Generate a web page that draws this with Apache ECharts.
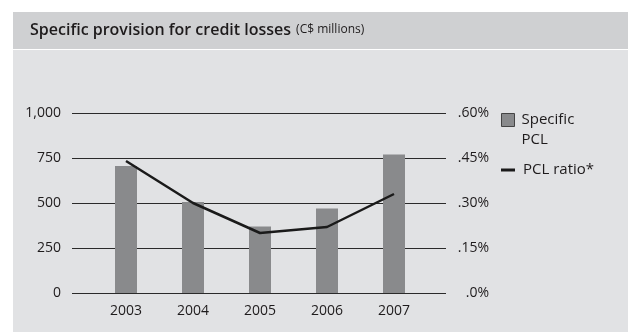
<!DOCTYPE html>
<html>
<head>
<meta charset="utf-8">
<script src="https://cdn.jsdelivr.net/npm/echarts@6/dist/echarts.min.js"></script>
<style>
html,body{margin:0;padding:0;background:#fff;}
#chart{width:630px;height:333px;}
</style>
</head>
<body>
<div id="chart"></div>
<script>
var years = ['2003', '2004', '2005', '2006', '2007'];
var specificPCL = [705, 505, 370, 470, 770];
var pclRatio = [0.44, 0.30, 0.20, 0.22, 0.33];
var leftTicks = ['0', '250', '500', '750', '1,000'];
var rightTicks = ['.0%', '.15%', '.30%', '.45%', '.60%'];

var FONT = '"Open Sans", sans-serif';
var TXT = '#1e1b1c';
var chart = echarts.init(document.getElementById('chart'));

var barData = specificPCL.map(function (v, i) { return [i, v]; });
var lineData = pclRatio.map(function (v, i) { return [i, v]; });

chart.setOption({
  animation: false,
  backgroundColor: '#ffffff',
  graphic: [
    { type: 'rect', shape: { x: 13, y: 12, width: 615, height: 37 }, style: { fill: '#cfd0d2' }, z: -10 },
    { type: 'rect', shape: { x: 13, y: 50, width: 615, height: 282 }, style: { fill: '#e1e2e4' }, z: -10 }
  ],
  title: {
    left: 30, top: 21, padding: 0,
    text: '{a|Specific provision for credit losses} {b|(C$ millions)}',
    textStyle: {
      rich: {
        a: { fontFamily: FONT, fontSize: 16, fontWeight: 600, color: TXT },
        b: { fontFamily: FONT, fontSize: 12, fontWeight: 'normal', color: TXT }
      }
    }
  },
  legend: [
    {
      left: 501, top: 90, padding: 0, orient: 'vertical',
      itemWidth: 13, itemHeight: 13, itemGap: 0,
      data: [{ name: 'Specific PCL', icon: 'rect', itemStyle: { color: '#898a8c', borderColor: '#444', borderWidth: 1 } }],
      formatter: function () { return '{e|}\n{t|Specific}\n{t|PCL}'; },
      textStyle: {
        fontFamily: FONT, fontSize: 15, color: TXT, lineHeight: 20,
        rich: {
          e: { height: 20, lineHeight: 20, fontSize: 15, padding: [0, 0, 0, 2] },
          t: { fontFamily: FONT, fontSize: 15, color: TXT, lineHeight: 20, padding: [0, 0, 0, 2] }
        }
      }
    },
    {
      left: 501, top: 160, padding: 0,
      itemWidth: 14, itemHeight: 3,
      data: [{ name: 'PCL ratio*', icon: 'rect', itemStyle: { color: '#1a1a1a' } }],
      textStyle: { fontFamily: FONT, fontSize: 15, color: TXT, lineHeight: 20, padding: [0, 0, 0, 3] }
    }
  ],
  grid: { left: 72, right: 184, top: 113, bottom: 40 },
  xAxis: {
    type: 'value', min: -0.806, max: 4.776,
    axisLine: { show: false }, axisTick: { show: false }, splitLine: { show: false },
    axisLabel: {
      customValues: [0, 1, 2, 3, 4],
      formatter: function (v) { return years[Math.round(v)]; },
      fontFamily: FONT, fontSize: 14, color: TXT, margin: 11
    }
  },
  yAxis: [
    {
      type: 'value', min: 0, max: 1000, interval: 250,
      axisLine: { show: false }, axisTick: { show: false },
      splitLine: { lineStyle: { color: '#2a2a2a', width: 1 } },
      axisLabel: {
        formatter: function (v) { return leftTicks[Math.round(v / 250)]; },
        fontFamily: FONT, fontSize: 14, color: TXT, margin: 11
      }
    },
    {
      type: 'value', min: 0, max: 0.6, interval: 0.15,
      axisLine: { show: false }, axisTick: { show: false }, splitLine: { show: false },
      axisLabel: {
        formatter: function (v) { return rightTicks[Math.round(v / 0.15)]; },
        align: 'right',
        fontFamily: FONT, fontSize: 14, color: TXT, margin: 43
      }
    }
  ],
  series: [
    {
      name: 'Specific PCL', type: 'bar', data: barData, barWidth: 22,
      itemStyle: { color: '#898a8c' }, z: 2
    },
    {
      name: 'PCL ratio*', type: 'line', yAxisIndex: 1, data: lineData,
      symbol: 'none', lineStyle: { color: '#1a1a1a', width: 2.5 }, z: 3
    }
  ]
});
</script>
</body>
</html>
